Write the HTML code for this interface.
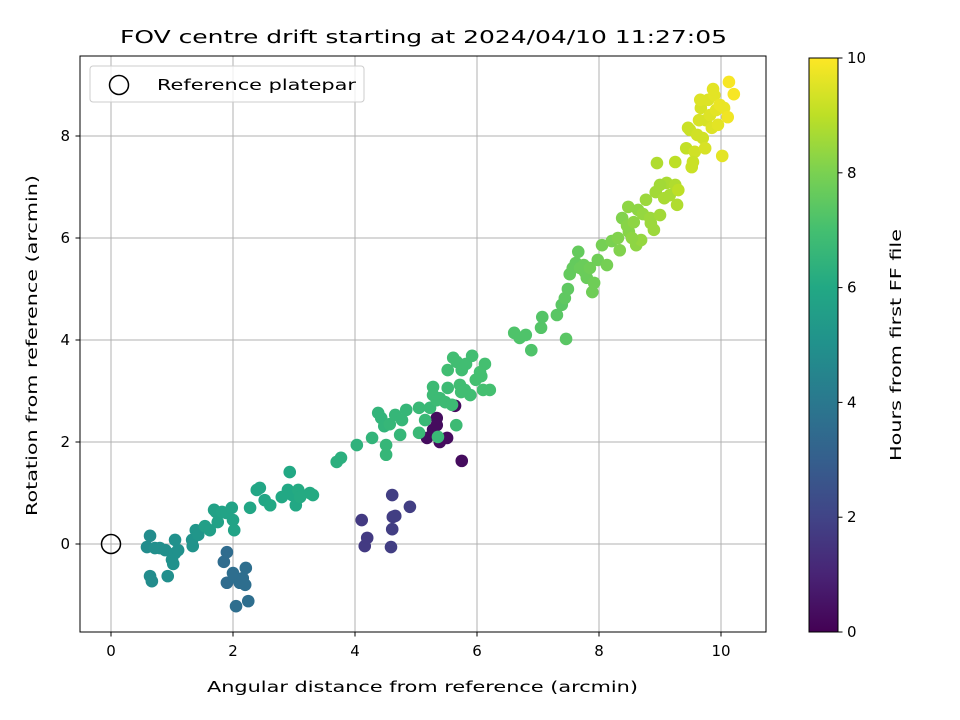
<!DOCTYPE html>
<html><head><meta charset="utf-8"><style>
html,body{margin:0;padding:0;background:#fff;}
svg{display:block;font-family:"DejaVu Sans","Liberation Sans",sans-serif;}
</style></head><body>
<svg id="chart" width="960" height="720" viewBox="0 0 960 720" xmlns="http://www.w3.org/2000/svg">
<defs>
<linearGradient id="vir" x1="0" y1="1" x2="0" y2="0">
<stop offset="0" stop-color="#440154"/><stop offset="0.1" stop-color="#482475"/><stop offset="0.2" stop-color="#414487"/><stop offset="0.3" stop-color="#355f8d"/><stop offset="0.4" stop-color="#2a788e"/><stop offset="0.5" stop-color="#21918c"/><stop offset="0.6" stop-color="#22a884"/><stop offset="0.7" stop-color="#44bf70"/><stop offset="0.8" stop-color="#7ad151"/><stop offset="0.9" stop-color="#bddf26"/><stop offset="1" stop-color="#fde725"/>
</linearGradient>
<clipPath id="pc"><rect x="80" y="56" width="686" height="576"/></clipPath>
</defs>
<text x="120" y="43" font-size="18" textLength="607" lengthAdjust="spacingAndGlyphs">FOV centre drift starting at 2024/04/10 11:27:05</text>
<g id="grid"></g>
<g id="pts" clip-path="url(#pc)"></g>
<circle id="refm" r="9.5" fill="none" stroke="#000" stroke-width="1.5"/>
<rect x="80" y="56" width="686" height="576" fill="none" stroke="#000" stroke-width="1"/>
<g id="ticks" font-size="15"></g>
<text x="207" y="692" font-size="15" textLength="431" lengthAdjust="spacingAndGlyphs">Angular distance from reference (arcmin)</text>
<text transform="translate(37,516) rotate(-90)" font-size="15" textLength="341" lengthAdjust="spacingAndGlyphs">Rotation from reference (arcmin)</text>
<g>
<rect x="90" y="66" width="274" height="36" rx="3" fill="#fff" fill-opacity="0.8" stroke="#ccc"/>
<circle cx="119" cy="85" r="9.5" fill="none" stroke="#000" stroke-width="1.5"/>
<text x="157" y="90" font-size="15" textLength="199" lengthAdjust="spacingAndGlyphs">Reference platepar</text>
</g>
<rect x="809" y="58" width="29" height="574" fill="url(#vir)" stroke="#000" stroke-width="1"/>
<g id="cbt" font-size="15"></g>
<text transform="translate(901,461) rotate(-90)" font-size="15" textLength="232" lengthAdjust="spacingAndGlyphs">Hours from first FF file</text>
</svg>
<script>
const xTicks=[0,2,4,6,8,10];
const yTicks=[0,2,4,6,8];
const cTicks=[0,2,4,6,8,10];
const xs=[5.18,5.28,5.34,5.39,5.51,5.64,5.75,5.34,
4.11,4.16,4.20,4.61,4.62,4.61,4.66,4.59,4.90,
1.85,1.90,1.90,2.02,2.05,2.11,2.20,2.21,2.25,2.00,2.16,
0.59,0.64,0.64,0.67,0.72,0.80,0.89,0.93,1.00,1.05,1.02,1.10,1.05,1.34,1.33,1.39,1.43,
1.54,1.62,1.69,1.75,1.72,1.82,1.89,1.98,2.00,2.02,2.28,2.39,2.44,2.52,2.61,2.80,2.93,2.90,2.97,3.03,3.07,3.26,3.31,3.10,
3.70,3.77,4.03,4.28,4.38,4.43,4.48,4.51,4.51,4.57,4.66,4.74,4.77,4.84,5.05,5.05,5.15,5.23,5.28,5.28,5.34,5.39,5.48,5.52,5.59,5.66,5.52,5.61,5.67,5.75,5.72,5.80,5.89,5.98,6.07,6.13,6.05,6.10,6.21,5.82,5.92,5.74,5.36,
6.61,6.70,6.80,6.89,7.05,7.07,7.31,7.46,7.39,7.44,7.49,7.52,7.57,7.62,7.66,7.69,7.75,7.77,7.80,7.85,7.89,7.92,7.98,8.05,8.13,
8.21,8.31,8.38,8.46,8.49,8.57,8.61,8.64,8.69,8.72,8.48,8.84,8.90,9.00,8.93,9.07,9.11,9.00,9.16,9.25,9.28,8.85,8.77,8.34,8.54,8.95,
9.43,9.46,9.49,9.52,9.57,9.61,9.64,9.67,9.70,9.75,9.79,9.82,9.85,9.89,9.92,9.95,9.98,10.02,10.05,10.11,10.13,10.21,9.74,9.87,9.25,9.30,9.66,9.54];
const ys=[2.08,2.24,2.47,2.00,2.08,2.71,1.63,2.33,
0.47,-0.04,0.12,0.96,0.53,0.29,0.55,-0.06,0.73,
-0.35,-0.16,-0.76,-0.65,-1.22,-0.76,-0.80,-0.47,-1.12,-0.57,-0.67,
-0.06,0.16,-0.63,-0.73,-0.08,-0.08,-0.12,-0.63,-0.31,-0.18,-0.39,-0.12,0.08,-0.04,0.08,0.27,0.18,
0.35,0.27,0.67,0.43,0.63,0.63,0.61,0.71,0.47,0.27,0.71,1.06,1.10,0.86,0.76,0.92,1.41,1.06,0.96,0.76,1.06,1.00,0.96,0.92,
1.61,1.69,1.94,2.08,2.57,2.47,2.31,1.94,1.75,2.35,2.53,2.14,2.43,2.63,2.18,2.67,2.43,2.67,3.08,2.92,2.82,2.86,2.78,3.06,2.73,2.33,3.41,3.65,3.57,3.41,3.12,3.02,2.92,3.22,3.29,3.53,3.37,3.02,3.02,3.53,3.69,2.98,2.10,
4.14,4.04,4.10,3.80,4.24,4.45,4.49,4.02,4.69,4.82,5.00,5.29,5.41,5.51,5.73,5.41,5.47,5.33,5.22,5.41,4.94,5.12,5.57,5.86,5.47,
5.94,6.00,6.39,6.24,6.12,6.31,5.86,6.55,5.96,6.47,6.61,6.39,6.16,6.45,6.90,6.78,7.08,7.04,6.84,7.04,6.65,6.29,6.75,5.76,6.00,7.47,
7.76,8.16,8.12,7.39,7.69,8.02,8.31,8.55,7.96,8.31,8.71,8.41,8.16,8.80,8.51,8.22,8.61,7.61,8.55,8.37,9.06,8.82,7.76,8.92,7.49,6.94,8.71,7.49];
const hours=[0.3,0.3,0.3,0.3,0.3,0.3,0.3,0.3,
1.7,1.7,1.7,1.8,1.8,1.8,1.8,1.8,1.8,
3.5,3.5,3.5,3.6,3.6,3.6,3.6,3.6,3.6,3.6,3.6,
4.8,4.8,4.8,4.8,4.9,4.9,4.9,4.9,5.0,5.0,5.0,5.0,5.0,5.1,5.1,5.2,5.2,
5.6,5.6,5.7,5.7,5.7,5.8,5.8,5.8,5.8,5.8,5.9,5.9,5.9,5.9,6.0,6.0,6.0,6.0,6.0,6.0,6.1,6.1,6.1,6.1,
6.3,6.3,6.4,6.5,6.5,6.5,6.5,6.6,6.6,6.6,6.6,6.6,6.6,6.6,6.7,6.7,6.7,6.7,6.8,6.8,6.8,6.8,6.8,6.8,6.8,6.8,6.9,6.9,6.9,6.9,6.9,6.9,6.9,7.0,7.0,7.0,7.0,7.0,7.0,6.9,6.9,6.9,6.7,
7.2,7.2,7.2,7.2,7.3,7.3,7.4,7.4,7.4,7.5,7.5,7.6,7.6,7.6,7.6,7.7,7.7,7.7,7.7,7.8,7.8,7.8,7.8,7.9,7.9,
8.0,8.1,8.1,8.2,8.2,8.3,8.3,8.3,8.4,8.4,8.3,8.5,8.5,8.6,8.6,8.7,8.7,8.6,8.7,8.8,8.8,8.5,8.5,8.1,8.3,8.8,
9.1,9.2,9.2,9.2,9.3,9.3,9.4,9.4,9.3,9.4,9.5,9.5,9.5,9.6,9.6,9.6,9.7,9.6,9.7,9.8,9.9,9.9,9.4,9.6,9.0,9.0,9.5,9.2];
const NS="http://www.w3.org/2000/svg";
const X=v=>111+v*61, Y=v=>544-v*51, C=v=>632-v*57.4;
const vstops=["#440154","#482475","#414487","#355f8d","#2a788e","#21918c","#22a884","#44bf70","#7ad151","#bddf26","#fde725"];
function hex(h){return [1,3,5].map(i=>parseInt(h.substr(i,2),16));}
function vir(t){t=Math.max(0,Math.min(1,t))*10;const i=Math.min(9,Math.floor(t)),f=t-i;const a=hex(vstops[i]),b=hex(vstops[i+1]);return "rgb("+a.map((v,k)=>Math.round(v+(b[k]-v)*f)).join(",")+")";}
function mk(tag,at,par){const e=document.createElementNS(NS,tag);for(const k in at)e.setAttribute(k,at[k]);par.appendChild(e);return e;}
const g=document.getElementById('grid'),tk=document.getElementById('ticks'),pts=document.getElementById('pts'),cb=document.getElementById('cbt');
xTicks.forEach(v=>{const l=mk('line',{x1:X(v),x2:X(v),y1:56,y2:632,stroke:'#b0b0b0','stroke-width':1},g);

mk('line',{x1:X(v),x2:X(v),y1:632,y2:636.5,stroke:'#000'},tk);
const t=mk('text',{x:X(v),y:656,'text-anchor':'middle'},tk);t.textContent=v;
});
yTicks.forEach(v=>{const l=mk('line',{x1:80,x2:766,y1:Y(v),y2:Y(v),stroke:'#b0b0b0','stroke-width':1},g);

mk('line',{x1:75.5,x2:80,y1:Y(v),y2:Y(v),stroke:'#000'},tk);
const t=mk('text',{x:70,y:Y(v)+5,'text-anchor':'end'},tk);t.textContent=v;
});
cTicks.forEach(v=>{mk('line',{x1:838,x2:842.5,y1:C(v),y2:C(v),stroke:'#000'},cb);
const t=mk('text',{x:847,y:C(v)+5},cb);t.textContent=v;
});
xs.forEach((x,i)=>{const c=mk('circle',{cx:X(x),cy:Y(ys[i]),r:6.3,fill:vir(hours[i]/10)},pts);
});
const r=document.getElementById('refm');r.setAttribute('cx',X(0));r.setAttribute('cy',Y(0));
</script>
</body></html>
